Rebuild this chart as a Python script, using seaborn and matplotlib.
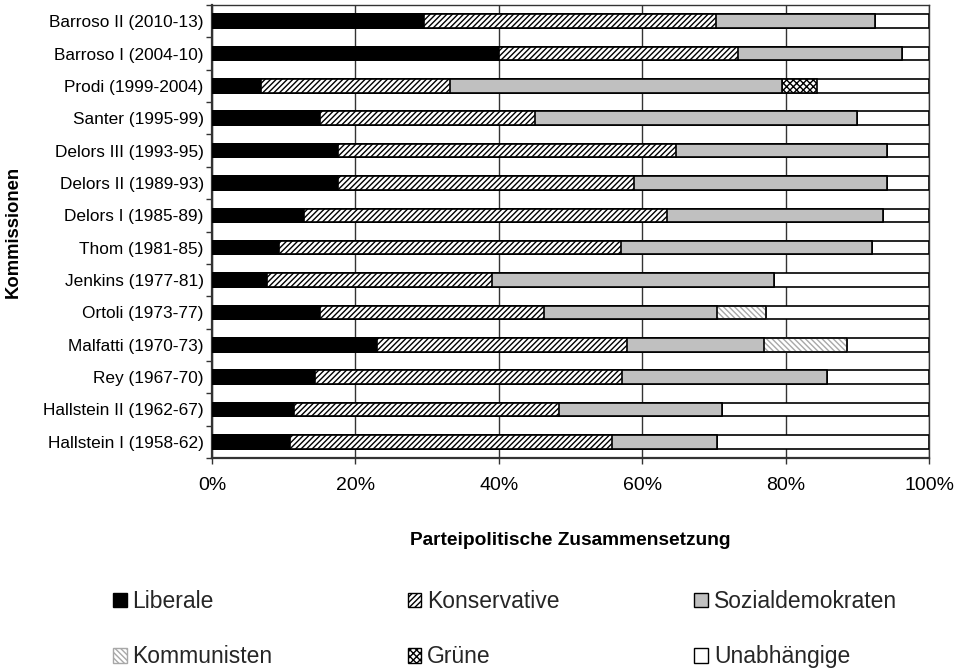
import matplotlib
matplotlib.use("Agg")
import matplotlib.pyplot as plt
from matplotlib.patches import Patch
from matplotlib.ticker import FixedLocator, PercentFormatter
import numpy as np
import pandas as pd
import seaborn as sns

# Commissions, listed top to bottom
kommissionen = [
    "Barroso II (2010-13)", "Barroso I (2004-10)", "Prodi (1999-2004)",
    "Santer (1995-99)", "Delors III (1993-95)", "Delors II (1989-93)",
    "Delors I (1985-89)", "Thom (1981-85)", "Jenkins (1977-81)",
    "Ortoli (1973-77)", "Malfatti (1970-73)", "Rey (1967-70)",
    "Hallstein II (1962-67)", "Hallstein I (1958-62)",
]

# Party-political shares in percent
liberale         = [29.6, 40.0,  6.9, 15.0, 17.6, 17.6, 12.9,  9.4,  7.7, 15.0, 23.0, 14.3, 11.4, 10.9]
konservative     = [40.7, 33.4, 26.3, 30.0, 47.1, 41.2, 50.6, 47.7, 31.3, 31.3, 34.9, 42.9, 37.0, 44.9]
sozialdemokraten = [22.2, 22.8, 46.3, 45.0, 29.4, 35.3, 30.1, 35.0, 39.4, 24.2, 19.1, 28.6, 22.7, 14.6]
kommunisten      = [ 0.0,  0.0,  0.0,  0.0,  0.0,  0.0,  0.0,  0.0,  0.0,  6.8, 11.6,  0.0,  0.0,  0.0]
gruene           = [ 0.0,  0.0,  4.9,  0.0,  0.0,  0.0,  0.0,  0.0,  0.0,  0.0,  0.0,  0.0,  0.0,  0.0]
unabhaengige     = [ 7.5,  3.8, 15.6, 10.0,  5.9,  5.9,  6.4,  7.9, 21.6, 22.7, 11.4, 14.2, 28.9, 29.6]

parteien = ["Liberale", "Konservative", "Sozialdemokraten",
            "Kommunisten", "Grüne", "Unabhängige"]

df = pd.DataFrame({
    "Kommission": kommissionen,
    "Liberale": liberale,
    "Konservative": konservative,
    "Sozialdemokraten": sozialdemokraten,
    "Kommunisten": kommunisten,
    "Grüne": gruene,
    "Unabhängige": unabhaengige,
})
# cumulative right edge of every segment
cum = df[parteien].cumsum(axis=1)
cum["Kommission"] = df["Kommission"]

styles = {
    "Liberale":         dict(color="black",   edgecolor="black",   hatch=None),
    "Konservative":     dict(color="white",   edgecolor="black",   hatch="//////"),
    "Sozialdemokraten": dict(color="#c0c0c0", edgecolor="black",   hatch=None),
    "Kommunisten":      dict(color="white",   edgecolor="#a8a8a8", hatch="\\\\\\\\\\\\"),
    "Grüne":            dict(color="white",   edgecolor="black",   hatch="xxxxx"),
    "Unabhängige":      dict(color="white",   edgecolor="black",   hatch=None),
}

sns.set_theme(style="white")
plt.rcParams["font.family"] = ["Liberation Sans", "DejaVu Sans"]
plt.rcParams["hatch.linewidth"] = 1.0

fig = plt.figure(figsize=(9.6, 6.72), dpi=100)
ax = fig.add_axes([212 / 960, 1 - 458 / 672, (929 - 212) / 960, (458 - 5) / 672])

bar_w = 0.42
# layered drawing: widest cumulative segment first, each following layer covers the left part
for i, p in enumerate(reversed(parteien)):
    st = styles[p]
    sns.barplot(data=cum, x=p, y="Kommission", orient="h", order=kommissionen,
                color=st["color"], saturation=1, width=bar_w, errorbar=None,
                edgecolor=st["edgecolor"], hatch=st["hatch"], linewidth=1.2,
                ax=ax, zorder=3 + i)
    if p == "Kommunisten":
        # black outline around the lightly hatched segments
        sns.barplot(data=cum, x=p, y="Kommission", orient="h", order=kommissionen,
                    fill=False, saturation=1, width=bar_w, errorbar=None,
                    edgecolor="black", linewidth=1.2, ax=ax, zorder=3 + i + 0.5)

ax.set_xlim(0, 100)
ax.set_ylim(len(kommissionen) - 0.5, -0.5)
ax.xaxis.set_major_locator(FixedLocator([0, 20, 40, 60, 80, 100]))
ax.xaxis.set_major_formatter(PercentFormatter(decimals=0))
ax.grid(axis="x", color="#333333", linewidth=1.0, zorder=0)
ax.set_axisbelow(True)

ax.yaxis.set_minor_locator(FixedLocator(np.arange(-0.5, len(kommissionen), 1.0)))
ax.tick_params(axis="y", which="major", length=0, pad=6, labelsize=12.4, labelcolor="black")
ax.tick_params(axis="y", which="minor", length=4, width=1.0, color="#333333", left=True)
ax.tick_params(axis="x", which="major", length=4, width=1.0, color="#333333", bottom=True,
               pad=10, labelsize=14, labelcolor="black")

for side in ["left", "bottom"]:
    ax.spines[side].set_color("#333333")
    ax.spines[side].set_linewidth(1.6)
for side in ["top", "right"]:
    ax.spines[side].set_color("#333333")
    ax.spines[side].set_linewidth(1.0)

ax.set_xlabel("Parteipolitische Zusammensetzung", fontsize=13.8, fontweight="bold",
              labelpad=27, color="black")
ax.set_ylabel("Kommissionen", fontsize=13.3, fontweight="bold", color="black")
ax.yaxis.set_label_coords((22 - 212) / 717, 0.5)

# legend laid out row-wise: two rows of three entries
handles = {}
for p in parteien:
    st = styles[p]
    handles[p] = Patch(facecolor=st["color"], edgecolor=st["edgecolor"],
                       hatch=st["hatch"], linewidth=1.0, label=p)
order = ["Liberale", "Kommunisten", "Konservative", "Grüne", "Sozialdemokraten", "Unabhängige"]
fig.legend(handles=[handles[p] for p in order], labels=order, ncol=3,
           loc="upper left", bbox_to_anchor=(113 / 960, 1 - 597 / 672, (897 - 113) / 960, 0.01),
           mode="expand", frameon=False, fontsize=16.5, handlelength=0.6, handleheight=0.6,
           handletextpad=0.25, labelspacing=1.4, borderaxespad=0, borderpad=0)

fig.savefig("out.png", dpi=100, facecolor="white")
